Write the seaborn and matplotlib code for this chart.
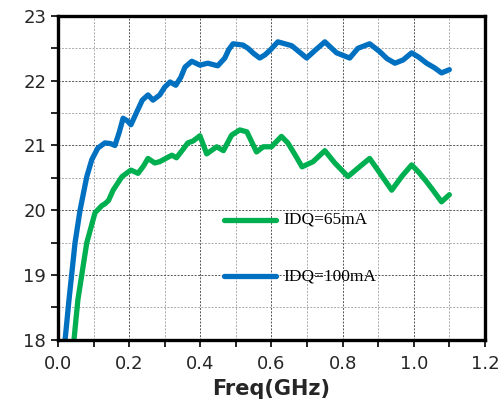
import numpy as np
import pandas as pd
import matplotlib
matplotlib.use("Agg")
import matplotlib.pyplot as plt
from matplotlib.ticker import MultipleLocator
import seaborn as sns

# valores
freq_100 = [0.02, 0.031, 0.048, 0.062, 0.081, 0.095, 0.112, 0.132, 0.147, 0.16, 0.172, 0.183,
            0.195, 0.205, 0.22, 0.237, 0.253, 0.267, 0.286, 0.3, 0.315, 0.331, 0.345, 0.357,
            0.376, 0.399, 0.421, 0.449, 0.469, 0.48, 0.492, 0.52, 0.534, 0.55, 0.567, 0.582,
            0.596, 0.618, 0.657, 0.688, 0.699, 0.725, 0.75, 0.783, 0.82, 0.843, 0.876, 0.904,
            0.925, 0.947, 0.97, 0.994, 1.015, 1.036, 1.058, 1.078, 1.1]
gain_100 = [18.0, 18.62, 19.5, 20.0, 20.52, 20.78, 20.96, 21.04, 21.03, 21.0, 21.2, 21.42,
            21.38, 21.32, 21.5, 21.7, 21.78, 21.7, 21.78, 21.9, 21.98, 21.93, 22.05, 22.21,
            22.3, 22.24, 22.27, 22.23, 22.35, 22.48, 22.57, 22.55, 22.5, 22.42, 22.35, 22.4,
            22.47, 22.6, 22.54, 22.4, 22.35, 22.48, 22.6, 22.43, 22.35, 22.5, 22.57, 22.45,
            22.34, 22.27, 22.32, 22.43, 22.36, 22.27, 22.2, 22.12, 22.17]

freq_65 = [0.045, 0.056, 0.081, 0.104, 0.123, 0.132, 0.142, 0.155, 0.18, 0.205, 0.225, 0.24,
           0.253, 0.272, 0.286, 0.32, 0.333, 0.35, 0.365, 0.38, 0.399, 0.418, 0.446, 0.465,
           0.488, 0.511, 0.531, 0.558, 0.577, 0.6, 0.628, 0.646, 0.667, 0.686, 0.717, 0.75,
           0.778, 0.815, 0.843, 0.876, 0.904, 0.938, 0.966, 0.994, 1.015, 1.036, 1.058, 1.078,
           1.1]
gain_65 = [18.0, 18.62, 19.5, 19.96, 20.07, 20.1, 20.15, 20.31, 20.52, 20.62, 20.57, 20.68,
           20.8, 20.73, 20.75, 20.85, 20.81, 20.93, 21.04, 21.07, 21.15, 20.87, 20.98, 20.92,
           21.16, 21.24, 21.21, 20.9, 20.98, 20.98, 21.14, 21.04, 20.85, 20.67, 20.75, 20.92,
           20.73, 20.52, 20.65, 20.8, 20.58, 20.31, 20.52, 20.7, 20.58, 20.44, 20.28, 20.13,
           20.24]

labels = ["IDQ=65mA", "IDQ=100mA"]
cores = ["#00B050", "#0070C0"]


def main():
    df = pd.concat([
        pd.DataFrame({"freq": freq_65, "gain": gain_65, "serie": labels[0]}),
        pd.DataFrame({"freq": freq_100, "gain": gain_100, "serie": labels[1]}),
    ])

    sns.set_style("white")
    fig, ax = plt.subplots(figsize=(5.02, 4.19), dpi=100)
    fig.subplots_adjust(left=0.1155, right=0.966, top=0.962, bottom=0.189)

    sns.lineplot(data=df, x="freq", y="gain", hue="serie", palette=cores,
                 linewidth=3.8, sort=False, ax=ax, legend=False)
    for ln in ax.get_lines():
        ln.set_solid_joinstyle("round")
        ln.set_solid_capstyle("round")

    ax.set_xlim(0, 1.2)
    ax.set_ylim(18, 23)
    ax.xaxis.set_major_locator(MultipleLocator(0.2))
    ax.xaxis.set_minor_locator(MultipleLocator(0.1))
    ax.yaxis.set_major_locator(MultipleLocator(1))
    ax.yaxis.set_minor_locator(MultipleLocator(0.5))
    ax.set_xticklabels([f"{v:.1f}" for v in ax.get_xticks()])

    ax.grid(which="major", color="#555555", linestyle=(0, (2, 1.5)), linewidth=0.7)
    ax.grid(which="minor", color="#aaaaaa", linestyle=(0, (2, 1.5)), linewidth=0.7)
    ax.set_axisbelow(True)

    for s in ax.spines.values():
        s.set_linewidth(2.4)
        s.set_color("black")
    ax.tick_params(which="both", direction="out", length=5, width=1.2, color="black",
                   labelsize=13, left=True, bottom=True)
    ax.tick_params(axis="x", pad=6)

    ax.set_xlabel("Freq(GHz)", fontsize=15, fontweight="bold", labelpad=4)
    ax.set_ylabel("")

    # legenda desenhada dentro do grafico
    for i, (lab, c) in enumerate(zip(labels, cores)):
        yy = 19.85 - i * 0.87
        ax.plot([0.468, 0.614], [yy, yy], color=c, linewidth=3.8, solid_capstyle="round")
        ax.text(0.632, yy, lab, fontsize=12.5, family="Liberation Serif",
                va="center", ha="left", color="black")

    plt.savefig("out.png", dpi=100)


if __name__ == "__main__":
    main()
